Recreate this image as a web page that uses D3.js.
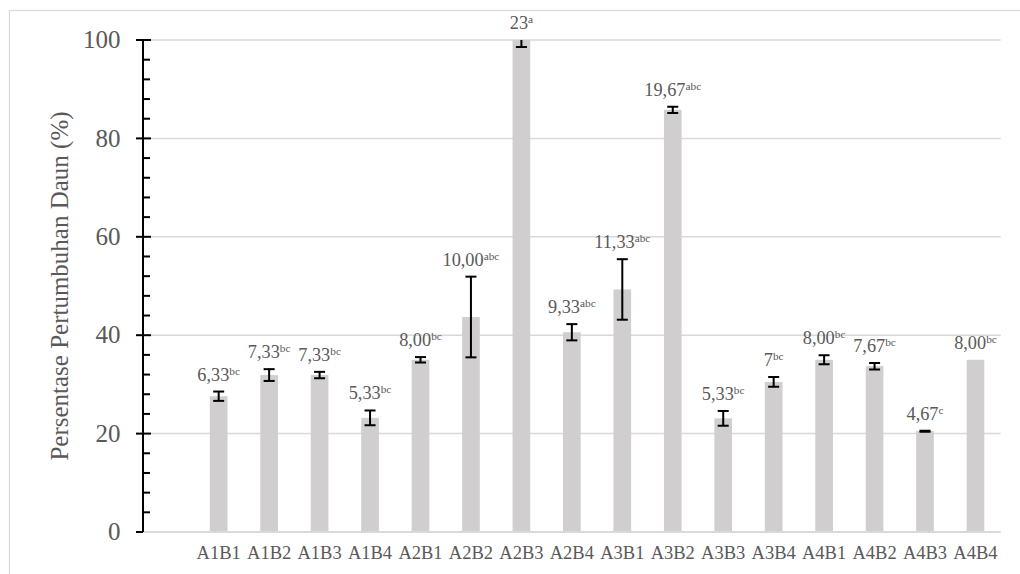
<!DOCTYPE html>
<html>
<head>
<meta charset="utf-8">
<script src="https://cdn.jsdelivr.net/npm/d3@7"></script>
<style>
  html, body { margin: 0; padding: 0; background: #ffffff; }
  svg { display: block; }
</style>
</head>
<body>
<svg id="chart" width="1020" height="574" font-family="'Liberation Serif', 'DejaVu Serif', serif"></svg>
<script>
// ---- data ----
const categories = ["A1B1","A1B2","A1B3","A1B4","A2B1","A2B2","A2B3","A2B4",
                    "A3B1","A3B2","A3B3","A3B4","A4B1","A4B2","A4B3","A4B4"];
const values = [27.6, 31.9, 31.9, 23.2, 35.0, 43.7, 100, 40.6,
                49.3, 85.8, 23.1, 30.5, 35.0, 33.7, 20.5, 35.0];
const errors = [0.95, 1.2, 0.65, 1.5, 0.55, 8.2, 1.4, 1.65,
                6.15, 0.65, 1.5, 1.0, 0.9, 0.65, 0.1, null];
const labelMain = ["6,33","7,33","7,33","5,33","8,00","10,00","23","9,33",
                   "11,33","19,67","5,33","7","8,00","7,67","4,67","8,00"];
const labelSup = ["bc","bc","bc","bc","bc","abc","a","abc",
                  "abc","abc","bc","bc","bc","bc","c","bc"];
const yTicks = [0, 20, 40, 60, 80, 100];
const yMinorTicks = d3.range(0, 101, 4);
const yTitle = "Persentase Pertumbuhan Daun (%)";

// ---- layout ----
const FONT = "'Liberation Serif', 'DejaVu Serif', serif";
const TXT = "#595959";
const svg = d3.select("#chart");
const plot = { left: 143, right: 1000.7, top: 40, bottom: 532 };

// chart area border
svg.append("rect")
  .attr("x", 9.5).attr("y", 10.5).attr("width", 1100).attr("height", 1000)
  .attr("fill", "none").attr("stroke", "#d9d9d9").attr("stroke-width", 1.2);

const x = d3.scaleBand()
  .domain([""].concat(categories))
  .range([plot.left, plot.right])
  .paddingInner(0).paddingOuter(0);
const step = x.step();
const barW = step * 0.35;
const cx = c => x(c) + step / 2;

const y = d3.scaleLinear().domain([0, 100]).range([plot.bottom, plot.top]);

// gridlines
svg.append("g").selectAll("line")
  .data(yTicks.filter(t => t > 0))
  .join("line")
  .attr("x1", plot.left).attr("x2", plot.right)
  .attr("y1", d => y(d)).attr("y2", d => y(d))
  .attr("stroke", "#d9d9d9").attr("stroke-width", 1.5);

// bars
svg.append("g").selectAll("rect")
  .data(categories)
  .join("rect")
  .attr("x", (c) => cx(c) - barW / 2)
  .attr("width", barW)
  .attr("y", (c, i) => y(values[i]))
  .attr("height", (c, i) => y(0) - y(values[i]))
  .attr("fill", "#d0cece");

// clip for error bars
svg.append("clipPath").attr("id", "plotclip")
  .append("rect")
  .attr("x", plot.left).attr("y", plot.top)
  .attr("width", plot.right - plot.left).attr("height", plot.bottom - plot.top);

const errG = svg.append("g").attr("clip-path", "url(#plotclip)");
const capHalf = 5.5;
categories.forEach((c, i) => {
  const e = errors[i];
  if (e == null) return;
  const xc = cx(c);
  const yHi = y(values[i] + e), yLo = y(values[i] - e);
  errG.append("line").attr("x1", xc).attr("x2", xc).attr("y1", yHi).attr("y2", yLo)
    .attr("stroke", "#000").attr("stroke-width", 2);
  [yHi, yLo].forEach(yy => {
    errG.append("line").attr("x1", xc - capHalf).attr("x2", xc + capHalf)
      .attr("y1", yy).attr("y2", yy)
      .attr("stroke", "#000").attr("stroke-width", 2);
  });
});

// category axis line (baseline)
svg.append("line")
  .attr("x1", plot.left).attr("x2", plot.right)
  .attr("y1", y(0)).attr("y2", y(0))
  .attr("stroke", "#d9d9d9").attr("stroke-width", 2);

// y axis
const axisG = svg.append("g");
axisG.append("line")
  .attr("x1", plot.left).attr("x2", plot.left)
  .attr("y1", y(100)).attr("y2", y(0))
  .attr("stroke", "#000").attr("stroke-width", 2);
axisG.selectAll("line.minor")
  .data(yMinorTicks.filter(t => t % 20 !== 0))
  .join("line").attr("class", "minor")
  .attr("x1", plot.left).attr("x2", plot.left + 7)
  .attr("y1", d => y(d)).attr("y2", d => y(d))
  .attr("stroke", "#000").attr("stroke-width", 2);
axisG.selectAll("line.major")
  .data(yTicks)
  .join("line").attr("class", "major")
  .attr("x1", plot.left - 7).attr("x2", d => d === 0 ? plot.left : plot.left + 8)
  .attr("y1", d => y(d)).attr("y2", d => y(d))
  .attr("stroke", "#000").attr("stroke-width", 2);
axisG.selectAll("text")
  .data(yTicks)
  .join("text")
  .attr("x", 120.5).attr("y", d => y(d)).attr("dy", "0.33em")
  .attr("text-anchor", "end")
  .attr("font-family", FONT).attr("fill", TXT)
  .attr("font-size", 25)
  .text(d => d);

// y title
svg.append("text")
  .attr("transform", `translate(68,${(plot.top + plot.bottom) / 2}) rotate(-90)`)
  .attr("text-anchor", "middle")
  .attr("font-family", FONT).attr("fill", TXT)
  .attr("font-size", 25)
  .text(yTitle);

// x labels
svg.append("g").selectAll("text")
  .data(categories)
  .join("text")
  .attr("x", c => cx(c)).attr("y", 559)
  .attr("text-anchor", "middle")
  .attr("font-family", FONT).attr("fill", TXT)
  .attr("font-size", 18.5)
  .text(c => c);

// data labels
const lblG = svg.append("g");
categories.forEach((c, i) => {
  const e = errors[i] || 0;
  const topVal = Math.min(values[i] + e, 100);
  const t = lblG.append("text")
    .attr("x", cx(c)).attr("y", y(topVal) - 11)
    .attr("text-anchor", "middle")
    .attr("font-family", FONT).attr("fill", TXT)
    .attr("font-size", 18.3);
  t.append("tspan").text(labelMain[i]);
  t.append("tspan").attr("font-size", 11.3).attr("dy", -6).text(labelSup[i]);
});
</script>
</body>
</html>
